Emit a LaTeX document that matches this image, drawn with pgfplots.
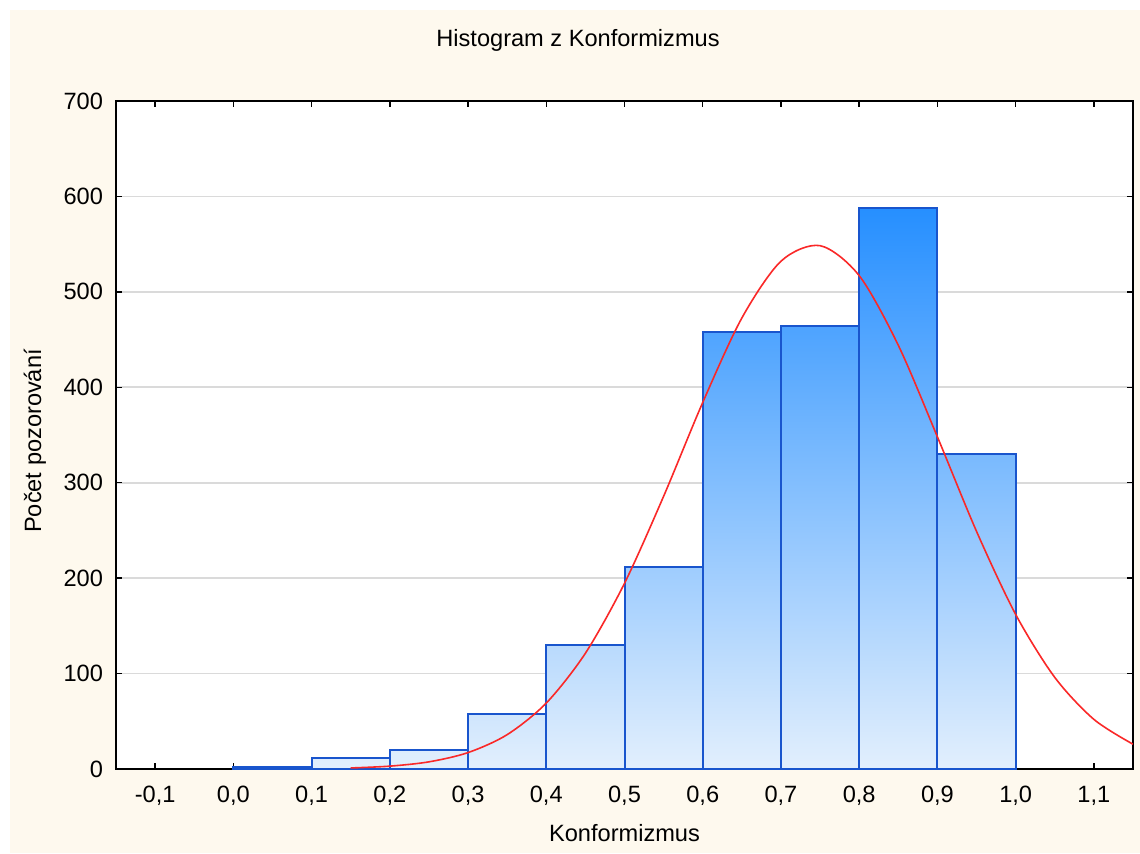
\documentclass[border=0pt]{standalone}
\usepackage{fontspec}
\setmainfont{Liberation Sans}
\usepackage{pgfplots}
\pgfplotsset{compat=1.18}

\definecolor{cream}{RGB}{254,249,238}
\definecolor{barlight}{RGB}{226,239,253}
\definecolor{bardark}{RGB}{38,143,255}
\definecolor{baredge}{RGB}{25,85,205}
\definecolor{gridgray}{RGB}{218,218,218}
\definecolor{fitred}{RGB}{250,40,40}

% one histogram bin: left edge, right edge, count, shade percent
\newcommand{\histbar}[4]{%
  \addplot[ybar interval, draw=baredge, line width=1pt,
    top color=bardark!#4!barlight, bottom color=barlight]
    coordinates {(#1,#3) (#2,#3)};}

\pgfplotsset{
  layers/bars below axis/.define layer set={
    axis background,axis grid,main,axis ticks,axis lines,
    axis tick labels,axis descriptions,axis foreground}{},
}

\begin{document}
\begin{tikzpicture}[font=\fontsize{11.8}{14}\selectfont]
\fill[white] (-58pt,-42pt) rectangle (512pt,384.5pt);
\fill[cream] (-53pt,-42pt) rectangle (512pt,379.5pt);
\node at (231pt,364.5pt) {Histogram z Konformizmus};
\node[rotate=90] at (-40.5pt,164pt) {Počet pozorování};
\begin{axis}[
    set layers=bars below axis,
    at={(0,0)}, anchor=south west,
    width=508.5pt, height=334pt, scale only axis,
    axis background/.style={fill=white},
    xmin=-0.15, xmax=1.15, ymin=0, ymax=700,
    xtick={-0.1,0,0.1,0.2,0.3,0.4,0.5,0.6,0.7,0.8,0.9,1.0,1.1},
    ytick={0,100,200,300,400,500,600,700},
    x tick label style={yshift=-5pt,
      /pgf/number format/fixed, /pgf/number format/fixed zerofill,
      /pgf/number format/precision=1, /pgf/number format/use comma,
      /pgf/number format/assume math mode=true},
    y tick label style={xshift=-3pt, /pgf/number format/assume math mode=true},
    tick align=inside, major tick length=3pt,
    tick style={black, line width=0.75pt},
    axis line style={black, line width=1pt},
    ymajorgrids, grid style={gridgray, line width=0.8pt},
    xlabel={Konformizmus},
    xlabel style={at={(axis description cs:0.5,0)}, anchor=center, yshift=-32pt},
]
\histbar{0.0}{0.1}{2}{0}
\histbar{0.1}{0.2}{12}{2}
\histbar{0.2}{0.3}{20}{3}
\histbar{0.3}{0.4}{58}{10}
\histbar{0.4}{0.5}{130}{22}
\histbar{0.5}{0.6}{212}{36}
\histbar{0.6}{0.7}{458}{78}
\histbar{0.7}{0.8}{464}{79}
\histbar{0.8}{0.9}{588}{100}
\histbar{0.9}{1.0}{330}{56}
% fitted normal curve
\addplot[fitred, line width=0.8pt, smooth] coordinates {
  (0.15,1.1) (0.20,3.0) (0.25,7.5) (0.30,17.2) (0.35,36.0) (0.40,69.1)
  (0.45,121.3) (0.50,194.6) (0.55,285.8) (0.60,384.1) (0.65,472.6)
  (0.70,532.1) (0.75,548.4) (0.80,517.0) (0.85,444.0) (0.90,348.0)
  (0.95,249.0) (1.00,162.0) (1.05,96.0) (1.10,52.0) (1.15,26.0)
};
\end{axis}
\end{tikzpicture}
\end{document}
